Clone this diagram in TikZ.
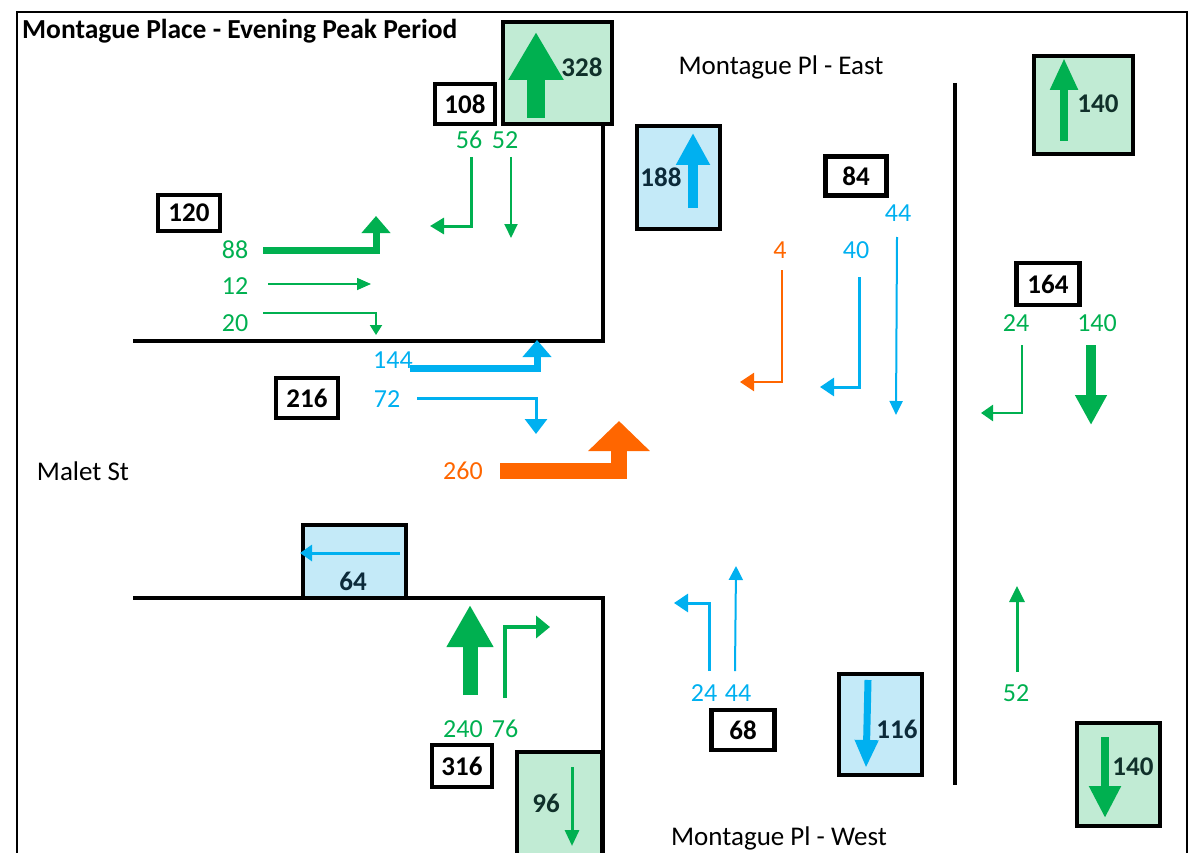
\documentclass[tikz,border=0pt]{standalone}
\usepackage{fontspec}
\setmainfont{Carlito}
\usetikzlibrary{arrows.meta}
\definecolor{tgreen}{HTML}{00B050}
\definecolor{tblue}{HTML}{00B0F0}
\definecolor{torange}{HTML}{FF6600}
\definecolor{lgreen}{HTML}{C1EBD4}
\definecolor{lblue}{HTML}{C4EAF8}
\definecolor{dgtext}{HTML}{10302A}
\definecolor{dbtext}{HTML}{0C2A3A}
\tikzset{
  road/.style={line width=4pt, line join=miter},
  cnt/.style={draw=black, line width=4.5pt, fill=white, inner sep=0pt, font=\fontsize{27}{32}\selectfont\bfseries},
  gbox/.style={draw=black, line width=3.5pt, fill=lgreen, inner sep=0pt},
  bbox/.style={draw=black, line width=3.5pt, fill=lblue, inner sep=0pt},
  gnum/.style={text=dgtext, inner sep=0pt, font=\fontsize{27}{32}\selectfont\bfseries},
  bnum/.style={text=dbtext, inner sep=0pt, font=\fontsize{27}{32}\selectfont\bfseries},
  lab/.style={inner sep=0pt, font=\fontsize{26}{30}\selectfont},
  street/.style={inner sep=0pt, font=\fontsize{27}{32}\selectfont},
  flow/.style={line join=miter},
}
\begin{document}
\begin{tikzpicture}[x=1pt,y=-1pt]
\useasboundingbox (0,0) rectangle (1190,853);
% frame
\draw[line width=2pt] (17,870) -- (17,12) -- (1187,12) -- (1187,870);
\node[anchor=west, inner sep=0pt, font=\fontsize{27.5}{32}\selectfont\bfseries] (title) at (22,31) {Montague Place - Evening Peak Period};

% roads
\draw[road] (133,341) -- (603,341) -- (603,120);
\draw[road] (133,598) -- (603,598) -- (603,870);
\draw[road] (955,83) -- (955,785);

% street names
\node[street] (east) at (781,67) {Montague Pl - East};
\node[street] (malet) at (83,471) {Malet St};
\node[street] (west) at (779,838) {Montague Pl - West};

% coloured boxes
\node[gbox, minimum width=109pt, minimum height=102pt] (g328) at (557.5,73) {};
\draw[tgreen, line width=18pt, -{Triangle[width=52pt,length=48pt]}] (536,118) -- (536,32);
\node[gnum] (t328) at (582,67) {328};

\node[bbox, minimum width=83pt, minimum height=103pt] (b188) at (678.5,177.5) {};
\draw[tblue, line width=10pt, -{Triangle[width=32pt,length=32pt]}] (693,208) -- (693,133);
\node[bnum] (t188) at (661,177) {188};

\node[gbox, minimum width=99pt, minimum height=98pt] (g140a) at (1083.5,105) {};
\draw[tgreen, line width=8pt, -{Triangle[width=26pt,length=32pt]}] (1064,141) -- (1064,58);
\node[gnum] (t140a) at (1098,104) {140};

\node[bbox, minimum width=103pt, minimum height=73pt] (b64) at (354.5,561.5) {};
\draw[tblue, line width=3pt, -{Triangle[width=16pt,length=12pt]}] (400,553) -- (300,553);
\node[bnum] (t64) at (353,581) {64};

\node[gbox, minimum width=85pt, minimum height=120pt] (g96) at (559.5,812) {};
\draw[tgreen, line width=3pt, -{Triangle[width=14pt,length=16pt]}] (572,767) -- (572,846);
\node[gnum] (t96) at (546,803) {96};

\node[bbox, minimum width=83pt, minimum height=101pt] (b116) at (880.5,724.5) {};
\draw[tblue, line width=7pt, -{Triangle[width=22pt,length=28pt]}] (868,680) -- (866,768);
\node[bnum] (t116) at (897,729) {116};

\node[gbox, minimum width=83pt, minimum height=103pt] (g140b) at (1118.5,774.5) {};
\draw[tgreen, line width=8pt, -{Triangle[width=30pt,length=32pt]}] (1105,737) -- (1105,818);
\node[gnum] (t140b) at (1133,767) {140};

% count boxes
\node[cnt, minimum width=60pt, minimum height=40pt] (c108) at (465,104) {108};
\node[cnt, minimum width=62pt, minimum height=36pt] (c120) at (189,213) {120};
\node[cnt, minimum width=61pt, minimum height=39pt] (c84) at (856,176) {84};
\node[cnt, minimum width=63pt, minimum height=42pt] (c164) at (1048,284) {164};
\node[cnt, minimum width=62pt, minimum height=40pt] (c216) at (307,398) {216};
\node[cnt, minimum width=60pt, minimum height=42pt] (c316) at (462,766) {316};
\node[cnt, minimum width=63pt, minimum height=40pt] (c68) at (743,730) {68};

% labels
\node[lab, text=tgreen] (l56) at (469,140) {56};
\node[lab, text=tgreen] (l52a) at (505,140) {52};
\node[lab, text=tgreen] (l88) at (235,250) {88};
\node[lab, text=tgreen] (l12) at (235,286) {12};
\node[lab, text=tgreen] (l20) at (235,323) {20};
\node[lab, text=tblue] (l44a) at (898,213) {44};
\node[lab, text=torange] (l4) at (780,250) {4};
\node[lab, text=tblue] (l40) at (856,250) {40};
\node[lab, text=tgreen] (l24a) at (1016,323) {24};
\node[lab, text=tgreen] (l140) at (1097,323) {140};
\node[lab, text=tblue] (l144) at (393,360) {144};
\node[lab, text=tblue] (l72) at (387,399) {72};
\node[lab, text=torange] (l260) at (463,471) {260};
\node[lab, text=tgreen] (l240) at (463,729) {240};
\node[lab, text=tgreen] (l76) at (505,729) {76};
\node[lab, text=tblue] (l24b) at (704,693) {24};
\node[lab, text=tblue] (l44b) at (738,693) {44};
\node[lab, text=tgreen] (l52b) at (1016,693) {52};

% flow arrows
\draw[flow, tgreen, line width=3pt, -{Triangle[width=16pt,length=14pt]}] (471,157) -- (471,226) -- (430,226);
\draw[flow, tgreen, line width=2pt, -{Triangle[width=13pt,length=14pt]}] (511,157) -- (511,238);
\draw[flow, tgreen, line width=7pt, -{Triangle[width=28pt,length=17pt]}] (263,250) -- (376,250) -- (376,216);
\draw[flow, tgreen, line width=1.6pt, -{Triangle[width=12pt,length=14pt]}] (268,284) -- (371,284);
\draw[flow, tgreen, line width=2pt, -{Triangle[width=12pt,length=10pt]}] (263,313) -- (376,313) -- (376,335);

\draw[flow, tblue, line width=2pt, -{Triangle[width=13pt,length=14pt]}] (897,237) -- (896,415);
\draw[flow, torange, line width=2.5pt, -{Triangle[width=18pt,length=14pt]}] (782,270) -- (782,382) -- (740,382);
\draw[flow, tblue, line width=3pt, -{Triangle[width=18pt,length=14pt]}] (859,277) -- (859,387) -- (820,387);
\draw[flow, tgreen, line width=2.5pt, -{Triangle[width=16pt,length=12pt]}] (1022,345) -- (1022,413) -- (981,413);
\draw[flow, tgreen, line width=10pt, -{Triangle[width=30pt,length=30pt]}] (1091,345) -- (1091,425);

\draw[flow, tblue, line width=7pt, -{Triangle[width=28pt,length=17pt]}] (410,368) -- (537,368) -- (537,340);
\draw[flow, tblue, line width=3pt, -{Triangle[width=22pt,length=15pt]}] (417,398) -- (536,398) -- (536,434);
\draw[flow, torange, line width=16pt, -{Triangle[width=60pt,length=30pt]}] (500,471) -- (619,471) -- (619,421);

\draw[flow, tgreen, line width=15pt, -{Triangle[width=44pt,length=42pt]}] (470,695) -- (470,605);
\draw[flow, tgreen, line width=4pt, -{Triangle[width=22pt,length=14pt]}] (505,698) -- (505,627) -- (550,627);
\draw[flow, tblue, line width=3pt, -{Triangle[width=18pt,length=14pt]}] (709,671) -- (709,603) -- (674,603);
\draw[flow, tblue, line width=2pt, -{Triangle[width=14pt,length=14pt]}] (735,671) -- (736,566);
\draw[flow, tgreen, line width=3pt, -{Triangle[width=15pt,length=16pt]}] (1017,672) -- (1017,586);
\end{tikzpicture}
\end{document}
